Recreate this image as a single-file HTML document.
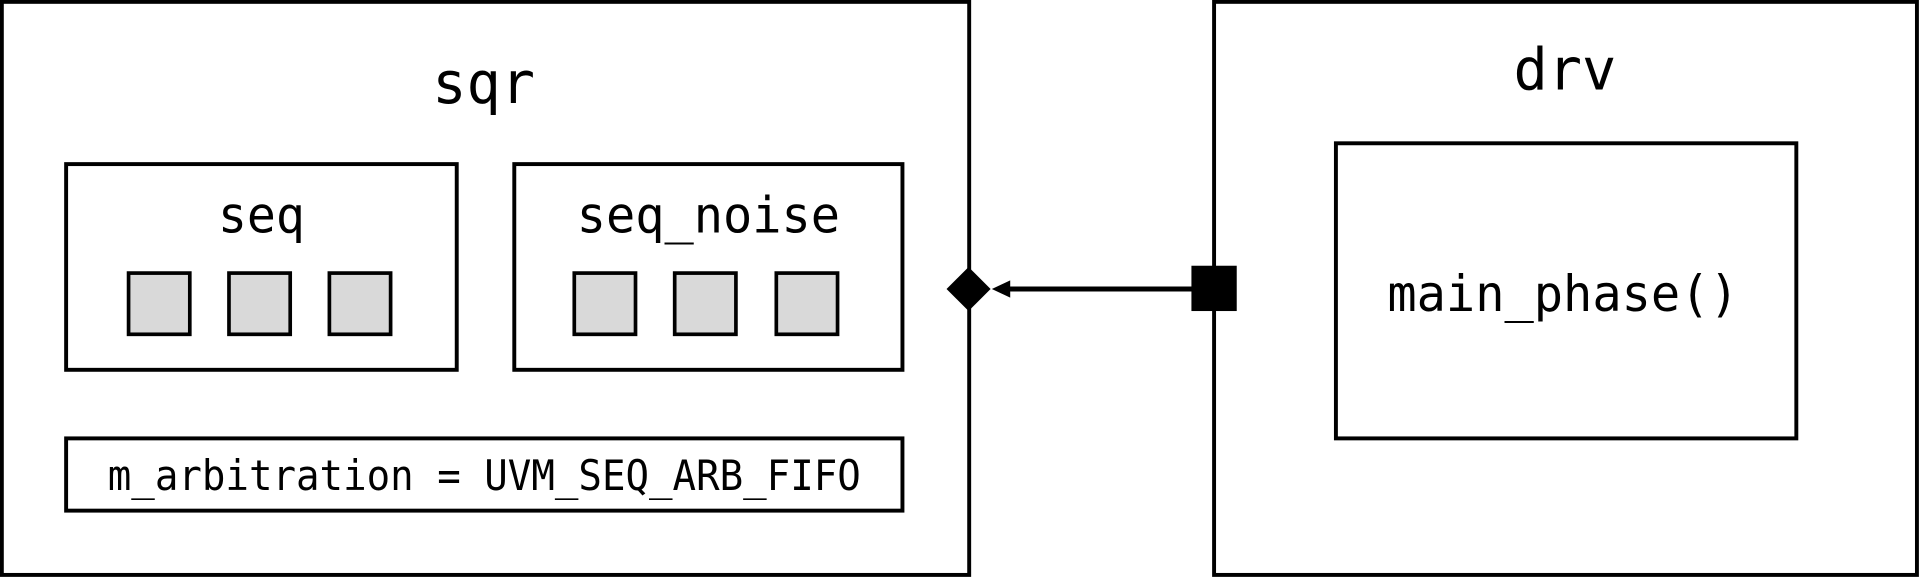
<!DOCTYPE html>
<html><head><meta charset="utf-8"><style>
html,body{margin:0;padding:0;background:#fff;width:1920px;height:578px;overflow:hidden}
svg{display:block}
text{font-family:"DejaVu Sans Mono","Liberation Mono",monospace;fill:#000;text-anchor:start}
</style></head><body>
<svg width="1920" height="578" viewBox="0 0 1568 472" xmlns="http://www.w3.org/2000/svg">
<rect width="1568" height="472" fill="#fff"/>
<g fill="none" stroke="#000" stroke-width="3.2">
<rect x="1.5" y="1.5" width="790" height="468" fill="#fff"/>
<rect x="991.5" y="1.5" width="574" height="468" fill="#fff"/>
<rect x="54" y="134" width="319" height="168"/>
<rect x="420" y="134" width="317" height="168"/>
<rect x="54" y="358" width="683" height="59"/>
<rect x="1091" y="117" width="376" height="241"/>
</g>
<g fill="#d9d9d9" stroke="#000" stroke-width="3">
<rect x="105" y="223" width="50" height="50"/>
<rect x="187" y="223" width="50" height="50"/>
<rect x="269" y="223" width="50" height="50"/>
<rect x="469" y="223" width="50" height="50"/>
<rect x="551" y="223" width="50" height="50"/>
<rect x="634" y="223" width="50" height="50"/>
</g>
<line x1="822" y1="236" x2="976" y2="236" stroke="#000" stroke-width="4"/>
<polygon points="773,236 791,218 809,236 791,254" fill="#000"/>
<polygon points="810,236 825,229 825,243" fill="#000"/>
<rect x="973" y="217" width="37" height="37" fill="#000"/>
<text x="353" y="84" font-size="47" textLength="84" lengthAdjust="spacingAndGlyphs">sqr</text>
<text x="1236" y="73" font-size="47" textLength="84" lengthAdjust="spacingAndGlyphs">drv</text>
<text x="178" y="190" font-size="41" textLength="71" lengthAdjust="spacingAndGlyphs">seq</text>
<text x="471" y="190" font-size="41" textLength="215" lengthAdjust="spacingAndGlyphs">seq_noise</text>
<text x="88" y="400" font-size="34" textLength="615" lengthAdjust="spacingAndGlyphs">m_arbitration = UVM_SEQ_ARB_FIFO</text>
<text x="1133" y="254" font-size="41" textLength="287" lengthAdjust="spacingAndGlyphs">main_phase()</text>
</svg>
</body></html>
